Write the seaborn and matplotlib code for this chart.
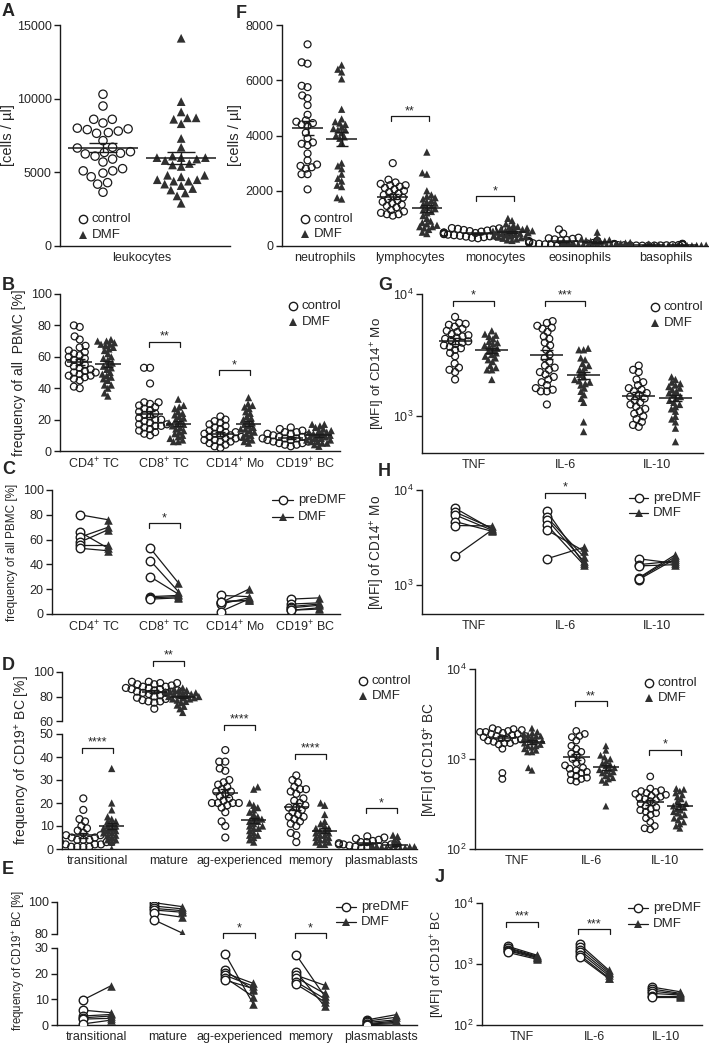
import warnings
warnings.filterwarnings('ignore')
import numpy as np
import pandas as pd
import matplotlib
matplotlib.use('Agg')
import matplotlib.pyplot as plt
from matplotlib.lines import Line2D
import seaborn as sns

sns.set_theme(style='ticks')
plt.rcParams['font.family'] = ['Liberation Sans', 'DejaVu Sans']
plt.rcParams['mathtext.fontset'] = 'custom'
plt.rcParams['mathtext.rm'] = 'Liberation Sans'
plt.rcParams['mathtext.it'] = 'Liberation Sans:italic'
plt.rcParams['mathtext.bf'] = 'Liberation Sans:bold'

# ---------------- DATA ----------------
a_cats = ['leukocytes']
a_control = [[10300, 9500, 8600, 8600, 8350, 8000, 7950, 7900, 7800, 7700, 7650, 7150, 6700, 6650, 6400,
              6350, 6300, 6250, 6100, 5900, 5700, 5250, 5100, 5100, 4950, 4700, 4300, 4200, 3650]]
a_dmf = [[14100, 9800, 9100, 8700, 8700, 8600, 8300, 7300, 6700, 6100, 6000, 6000, 6000, 5900, 5800, 5600,
          5500, 5400, 4800, 4800, 4700, 4500, 4500, 4400, 4400, 4200, 4100, 3900, 3800, 3600, 3400, 2900]]

f_cats = ['neutrophils', 'lymphocytes', 'monocytes', 'eosinophils', 'basophils']
f_control = [
    [7300, 6650, 6600, 5800, 5750, 5450, 5350, 5100, 4750, 4550, 4500, 4450, 4400, 4350, 4100, 3900, 3750,
     3700, 3650, 3350, 3100, 2950, 2900, 2850, 2800, 2600, 2600, 2050],
    [3000, 2400, 2300, 2250, 2200, 2200, 2150, 2100, 2050, 2000, 1950, 1900, 1850, 1800, 1750, 1700, 1650,
     1600, 1550, 1500, 1450, 1400, 1300, 1250, 1200, 1150, 1150, 1100],
    [650, 640, 620, 600, 580, 560, 540, 520, 500, 490, 480, 470, 460, 450, 440, 430, 420, 410, 400, 390, 380,
     370, 360, 350, 340, 320, 300, 280],
    [600, 450, 300, 280, 260, 240, 220, 200, 190, 180, 170, 160, 150, 140, 130, 120, 110, 100, 90, 80, 70, 60,
     50, 40, 30, 20, 10],
    [80, 75, 70, 65, 60, 55, 50, 45, 40, 38, 35, 32, 30, 28, 25, 22, 20, 18, 15, 12, 10]]
f_dmf = [
    [6550, 6400, 6300, 6050, 4950, 4600, 4500, 4450, 4400, 4300, 4250, 4200, 4200, 4100, 4000, 3950, 3900,
     3750, 3000, 2900, 2800, 2600, 2450, 2350, 2200, 2150, 1750, 1700],
    [3400, 2650, 2600, 2000, 1850, 1800, 1750, 1700, 1650, 1600, 1550, 1500, 1450, 1400, 1350, 1300, 1250,
     1200, 1100, 1000, 900, 850, 800, 750, 700, 700, 650, 600, 500, 450],
    [1000, 920, 800, 750, 700, 680, 650, 620, 600, 580, 560, 550, 540, 520, 500, 480, 460, 440, 420, 400, 380,
     360, 340, 320, 300, 280, 250, 220, 200],
    [500, 300, 250, 220, 200, 180, 170, 160, 150, 140, 130, 120, 110, 100, 90, 80, 70, 60, 50, 40, 30, 20, 10,
     5, 0],
    [90, 70, 60, 50, 45, 40, 35, 30, 28, 25, 22, 20, 18, 15, 12, 10, 8, 5]]

b_cats = ['CD4', 'CD8', 'CD14', 'CD19']
b_labels = ['CD4$^{+}$ TC', 'CD8$^{+}$ TC', 'CD14$^{+}$ Mo', 'CD19$^{+}$ BC']
b_control = [
    [80, 79, 73, 71, 67, 66, 64, 63, 62, 61, 60, 59, 58, 57, 56, 55, 54, 53, 52, 51, 50, 50, 49, 48, 48, 47,
     46, 45, 41, 40],
    [53, 53, 43, 31, 31, 30, 29, 28, 27, 26, 25, 24, 23, 22, 21, 20, 20, 19, 18, 17, 17, 16, 16, 15, 14, 13,
     12, 11, 10],
    [22, 20, 19, 18, 17, 16, 15, 14, 13, 12, 12, 11, 11, 10, 10, 9, 9, 8, 8, 7, 7, 6, 6, 5, 4, 3, 2],
    [15, 14, 13, 12, 12, 11, 11, 10, 10, 9, 9, 9, 8, 8, 8, 7, 7, 7, 6, 6, 5, 5, 4, 4, 3]]
b_dmf = [
    [71, 70, 70, 69, 68, 68, 67, 66, 65, 64, 62, 60, 59, 58, 56, 55, 54, 53, 52, 50, 49, 48, 47, 46, 45, 42,
     42, 40, 37, 35],
    [33, 29, 28, 27, 25, 24, 23, 22, 21, 20, 19, 18, 17, 17, 16, 15, 14, 13, 12, 11, 10, 9, 8, 7, 6, 6],
    [34, 30, 29, 28, 27, 25, 24, 22, 21, 20, 19, 18, 17, 16, 15, 14, 14, 13, 12, 11, 10, 9, 8, 7, 6, 5],
    [17, 17, 16, 15, 14, 13, 13, 12, 12, 11, 11, 10, 10, 9, 9, 8, 8, 7, 7, 6, 6, 5, 5, 4, 3]]

c_pre = [[80, 66, 62, 58, 56, 53], [53, 43, 30, 14, 13, 12], [15, 10, 9, 8, 2, 10], [12, 8, 6, 5, 3, 3]]
c_post = [[76, 53, 70, 68, 56, 51], [25, 18, 16, 15, 14, 13], [14, 11, 20, 13, 12, 11], [13, 9, 8, 7, 5, 4]]

d_cats = ['transitional', 'mature', 'ag-experienced', 'memory', 'plasmablasts']
d_control = [
    [22, 17, 13, 12, 10, 9, 8, 7, 6, 6, 5, 5, 4, 4, 4, 3, 3, 3, 2, 2, 2, 1, 1, 1, 1],
    [92, 92, 91, 91, 90, 90, 89, 88, 88, 87, 87, 86, 86, 85, 85, 84, 84, 83, 83, 82, 81, 80, 79, 78, 77, 76,
     76, 75, 70],
    [43, 38, 38, 35, 34, 30, 29, 28, 27, 26, 25, 25, 24, 23, 22, 21, 20, 20, 20, 20, 19, 18, 16, 12, 10, 5],
    [32, 30, 29, 27, 26, 26, 25, 24, 22, 21, 20, 19, 18, 18, 17, 16, 15, 14, 14, 13, 12, 11, 10, 7, 6, 3],
    [5.5, 5, 4.5, 4, 3.5, 3, 3, 2.5, 2.5, 2, 2, 2, 1.5, 1.5, 1, 1, 1, 0.5, 0.5]]
d_dmf = [
    [35, 20, 17, 14, 13, 12, 12, 11, 10, 10, 9, 9, 8, 8, 7, 7, 6, 6, 5, 4, 4, 3, 0],
    [87, 86, 85, 85, 84, 84, 83, 83, 82, 82, 81, 81, 80, 80, 79, 79, 78, 78, 77, 76, 75, 73, 72, 70, 67],
    [27, 26, 20, 19, 18, 17, 16, 15, 14, 13, 13, 12, 12, 11, 10, 10, 9, 9, 8, 7, 6, 6, 5, 4, 3],
    [20, 19, 15, 12, 11, 10, 9, 9, 8, 8, 7, 7, 6, 6, 5, 5, 4, 4, 3, 3, 2, 2],
    [6, 5.5, 4, 3, 2, 1.5, 1.5, 1, 1, 1, 0.8, 0.5, 0.5, 0.3, 0.2, 0.1]]

e_pre = [[9.7, 5.8, 3.5, 2.8, 2.3, 0.4], [99.6, 97.5, 96, 95, 93, 88.9], [27.8, 21.3, 20.3, 19.4, 18.5, 17.5],
         [27.4, 20.7, 19.4, 18.5, 16.8, 15.9], [2, 1.5, 1, 0.5, 0.3, 0.1]]
e_post = [[15.3, 4.8, 4.1, 3.5, 2.6, 1.9], [97.1, 95.7, 94.6, 93.6, 90.5, 80.6], [8.1, 13.6, 16.2, 15.1, 11, 14.2],
          [11.3, 7.4, 15.5, 12.3, 10.3, 9.1], [4, 3, 2, 1.5, 1, 0.5]]

g_cats = ['TNF', 'IL-6', 'IL-10']
g_control = [
    [6500, 5800, 5700, 5600, 5400, 5200, 5000, 4900, 4700, 4600, 4500, 4400, 4300, 4200, 4100, 4000, 3900,
     3800, 3700, 3600, 3500, 3300, 3100, 2700, 2500, 2400, 2300, 2000],
    [6000, 5800, 5500, 5300, 5200, 4900, 4500, 4300, 4000, 3800, 3500, 3200, 3000, 2800, 2600, 2500, 2400,
     2300, 2200, 2100, 2000, 1900, 1800, 1700, 1650, 1600, 1600, 1250],
    [2600, 2400, 2300, 2000, 1900, 1800, 1700, 1650, 1600, 1550, 1500, 1450, 1400, 1350, 1300, 1250, 1200,
     1150, 1100, 1050, 1000, 950, 900, 850, 820]]
g_dmf = [
    [5000, 4700, 4600, 4500, 4300, 4100, 4000, 3900, 3800, 3700, 3600, 3500, 3400, 3300, 3200, 3100, 3000,
     2900, 2800, 2600, 2500, 2400, 2400, 2000],
    [3600, 3500, 3500, 3000, 2900, 2700, 2600, 2500, 2400, 2300, 2200, 2100, 2000, 1950, 1900, 1850, 1800,
     1700, 1600, 1500, 1400, 1300, 900, 750],
    [2100, 2000, 1900, 1850, 1800, 1750, 1700, 1650, 1600, 1550, 1500, 1450, 1400, 1350, 1300, 1250, 1200,
     1150, 1100, 1000, 950, 900, 800, 620]]

h_pre = [[6450, 5870, 5480, 4670, 4240, 2020], [6000, 5200, 4900, 4300, 3800, 1900], [1900, 1650, 1600, 1200, 1150, 1180]]
h_post = [[3900, 4000, 3800, 3700, 4200, 3800], [1700, 2000, 1800, 1650, 2300, 2500], [1700, 1800, 1650, 2100, 1900, 2000]]

i_control = [
    [2200, 2150, 2100, 2100, 2050, 2000, 2000, 1950, 1900, 1900, 1850, 1800, 1800, 1750, 1700, 1700, 1650,
     1600, 1600, 1550, 1500, 1500, 1450, 1300, 700, 600],
    [2050, 1900, 1800, 1750, 1600, 1400, 1300, 1200, 1150, 1100, 1000, 950, 900, 850, 800, 780, 750, 720, 700,
     680, 650, 620, 600, 580, 560],
    [640, 470, 450, 440, 430, 420, 410, 400, 390, 380, 370, 360, 350, 340, 320, 300, 290, 280, 270, 260, 250,
     240, 220, 200, 180, 170, 165]]
i_dmf = [
    [2200, 2000, 1950, 1900, 1850, 1800, 1800, 1750, 1700, 1650, 1600, 1600, 1550, 1500, 1450, 1400, 1400,
     1350, 1300, 1250, 1200, 1200, 800, 750],
    [1400, 1250, 1100, 1050, 1000, 950, 900, 870, 840, 800, 780, 760, 740, 720, 700, 680, 650, 620, 600, 580,
     550, 300],
    [470, 460, 440, 420, 400, 380, 360, 340, 320, 310, 300, 290, 280, 270, 260, 250, 240, 230, 220, 210, 200,
     190, 180, 170]]

j_pre = [[1950, 1850, 1800, 1700, 1650, 1550], [2100, 1900, 1700, 1550, 1400, 1300], [420, 390, 360, 330, 300, 290]]
j_post = [[1400, 1350, 1300, 1300, 1250, 1200], [800, 750, 700, 650, 600, 580], [350, 330, 320, 310, 300, 290]]

# ---------------- FIGURE ----------------
W, H = 709, 1048
fig = plt.figure(figsize=(W / 100, H / 100), dpi=100)
DARK = '#303030'
FS = 9
FREEZE = []


def add_ax(x0, y0, x1, y1):
    return fig.add_axes([x0 / W, 1 - y1 / H, (x1 - x0) / W, (y1 - y0) / H])


def style(ax):
    sns.despine(ax=ax)
    ax.tick_params(axis='y', direction='out', length=4, width=1, labelsize=FS, pad=2, color='k')
    ax.tick_params(axis='x', length=0, labelsize=FS, pad=4)
    for s in ['left', 'bottom']:
        ax.spines[s].set_linewidth(1.0)
        ax.spines[s].set_color('k')
    ax.set_xlabel('')
    ax.set_ylabel('')
    ax.set_facecolor('none')


def long_df(cats, groups):
    rows = []
    for g, lists in groups.items():
        for c, vals in zip(cats, lists):
            for v in vals:
                rows.append((c, g, v))
    return pd.DataFrame(rows, columns=['cat', 'group', 'value'])


def scatter_panel(ax, cats, ctrl, dmf, size=5, log=False, skip=(), factor=0.65):
    ctrl = [[] if i in skip else v for i, v in enumerate(ctrl)]
    dmf = [[] if i in skip else v for i, v in enumerate(dmf)]
    df = long_df(cats, {'control': ctrl, 'DMF': dmf})
    kw = dict(x='cat', y='value', hue='group', hue_order=['control', 'DMF'], order=cats,
              dodge=True, legend=False, ax=ax)
    if log:
        kw['log_scale'] = True
    small = size * factor
    n0 = len(ax.collections)
    sns.swarmplot(data=df[df.group == 'control'], marker='o', size=small,
                  palette={'control': 'k', 'DMF': 'k'}, edgecolor='k', linewidth=0.9, **kw)
    for c in ax.collections[n0:]:
        c.set_facecolor('none')
        c.set_edgecolor('k')
        c.set_linewidth(0.9)
        FREEZE.append((c, size))
    n1 = len(ax.collections)
    sns.swarmplot(data=df[df.group == 'DMF'], marker='^', size=small,
                  palette={'control': DARK, 'DMF': DARK}, linewidth=0, **kw)
    for c in ax.collections[n1:]:
        FREEZE.append((c, size * 1.05))
    for i, c in enumerate(cats):
        for g, sign in (('control', -1), ('DMF', 1)):
            v = df[(df.cat == c) & (df.group == g)].value.values
            if len(v) == 0:
                continue
            m = v.mean()
            s = v.std(ddof=1) / np.sqrt(len(v))
            x = i + sign * 0.2
            ax.hlines(m, x - 0.18, x + 0.18, color='k', lw=1.1, zorder=6)
            ax.vlines(x, m - s, m + s, color='k', lw=1.0, zorder=6)
            ax.hlines([m - s, m + s], x - 0.07, x + 0.07, color='k', lw=1.0, zorder=6)


def paired_panel(ax, cats, pre, post, skip=(), ms=38):
    rows = []
    for i, c in enumerate(cats):
        if i in skip:
            continue
        for j, (a, b) in enumerate(zip(pre[i], post[i])):
            rows.append((i - 0.2, a, f'{c}-{j}', 'preDMF'))
            rows.append((i + 0.2, b, f'{c}-{j}', 'DMF'))
    df = pd.DataFrame(rows, columns=['x', 'value', 'unit', 'group'])
    sns.lineplot(data=df, x='x', y='value', units='unit', estimator=None, color='k', lw=0.9,
                 ax=ax, legend=False, zorder=2)
    sns.scatterplot(data=df[df.group == 'preDMF'], x='x', y='value', marker='o', s=ms,
                    facecolor='white', edgecolor='k', linewidth=1.0, ax=ax, zorder=3, legend=False)
    sns.scatterplot(data=df[df.group == 'DMF'], x='x', y='value', marker='^', s=ms,
                    color=DARK, edgecolor=DARK, linewidth=0, ax=ax, zorder=3, legend=False)


def bracket(ax, i, y, text, off=0.22, drop_px=5):
    d = ax.transData.transform([(i, y)])[0]
    y_low = ax.transData.inverted().transform([(d[0], d[1] - drop_px)])[0][1]
    ax.plot([i - off, i - off, i + off, i + off], [y_low, y, y, y_low], color='k', lw=0.9,
            clip_on=False, zorder=7)
    ax.annotate(text, xy=(i, y), xytext=(0, 1.5), textcoords='offset points', ha='center',
                va='baseline', fontsize=FS, annotation_clip=False)


def legend_markers(x, y1, y2, labels=('control', 'DMF')):
    fig.add_artist(Line2D([x / W], [1 - y1 / H], marker='o', ms=6, mfc='none', mec='k', mew=1.0,
                          transform=fig.transFigure))
    fig.add_artist(Line2D([x / W], [1 - y2 / H], marker='^', ms=6, mfc=DARK, mec=DARK, mew=0,
                          transform=fig.transFigure))
    fig.text((x + 9) / W, 1 - y1 / H, labels[0], va='center', ha='left', fontsize=9.5)
    fig.text((x + 9) / W, 1 - y2 / H, labels[1], va='center', ha='left', fontsize=9.5)


def legend_lines(x0, x1, y1, y2, labels=('preDMF', 'DMF')):
    xm = (x0 + x1) / 2
    for yy, mk, fc in ((y1, 'o', 'white'), (y2, '^', DARK)):
        fig.add_artist(Line2D([x0 / W, x1 / W], [1 - yy / H, 1 - yy / H], color='k', lw=0.9,
                              transform=fig.transFigure))
        fig.add_artist(Line2D([xm / W], [1 - yy / H], marker=mk, ms=6, mfc=fc,
                              mec='k' if mk == 'o' else DARK, mew=1.0 if mk == 'o' else 0,
                              transform=fig.transFigure))
    fig.text((x1 + 5) / W, 1 - y1 / H, labels[0], va='center', ha='left', fontsize=9.5)
    fig.text((x1 + 5) / W, 1 - y2 / H, labels[1], va='center', ha='left', fontsize=9.5)


def letter(x, y, s):
    fig.text(x / W, 1 - y / H, s, fontsize=13, fontweight='bold', ha='left', va='center')


def log_ticks(ax, ticks):
    ax.set_yticks(ticks)
    ax.set_yticklabels([f'10$^{{{int(np.log10(t))}}}$' for t in ticks])
    ax.yaxis.set_minor_locator(matplotlib.ticker.NullLocator())


# ---- A ----
axA = add_ax(60, 25, 230, 246)
scatter_panel(axA, a_cats, a_control, a_dmf, size=6, factor=1.0)
style(axA)
axA.set_xlim(-0.42, 0.45)
axA.set_ylim(0, 15000)
axA.set_yticks([0, 5000, 10000, 15000])
axA.set_xticks([0])
axA.set_xticklabels(a_cats)
axA.set_ylabel('[cells / µl]', fontsize=10.5, labelpad=1)
legend_markers(83, 219, 235)
letter(2, 12, 'A')

# ---- F ----
axF = add_ax(282, 25, 708, 246)
scatter_panel(axF, f_cats, f_control, f_dmf, size=5)
style(axF)
axF.set_xlim(-0.5, 4.5)
axF.set_ylim(0, 8000)
axF.set_yticks(range(0, 8001, 2000))
axF.set_xticks(range(5))
axF.set_xticklabels(f_cats)
axF.set_ylabel('[cells / µl]', fontsize=10.5, labelpad=3)
bracket(axF, 1, 4700, '**')
bracket(axF, 2, 1800, '*')
legend_markers(305, 219, 234)
letter(236, 13, 'F')

# ---- B ----
axB = add_ax(60, 294, 340, 451)
scatter_panel(axB, b_cats, b_control, b_dmf, size=5)
style(axB)
axB.set_xlim(-0.48, 3.5)
axB.set_ylim(0, 100)
axB.set_yticks(range(0, 101, 20))
axB.set_xticks(range(4))
axB.set_xticklabels(b_labels)
axB.set_ylabel('frequency of all  PBMC [%]', fontsize=10, labelpad=3)
bracket(axB, 1, 69.5, '**')
bracket(axB, 2, 51.5, '*')
legend_markers(293, 306, 322)
letter(2, 286, 'B')

# ---- C ----
axC = add_ax(52, 490, 340, 614)
paired_panel(axC, b_cats, c_pre, c_post)
style(axC)
axC.set_xlim(-0.6, 3.5)
axC.set_ylim(0, 100)
axC.set_yticks(range(0, 101, 20))
axC.set_xticks(range(4))
axC.set_xticklabels(b_labels)
axC.set_ylabel('frequency of all PBMC [%]', fontsize=8.5, labelpad=3)
bracket(axC, 1, 73, '*')
legend_lines(272, 293, 500, 517)
letter(2, 470, 'C')

# ---- D (broken axis) ----
axDt = add_ax(62, 672, 417, 721)
axDb = add_ax(62, 734, 417, 849)
scatter_panel(axDt, d_cats, d_control, d_dmf, size=5, skip=(0, 2, 3, 4))
scatter_panel(axDb, d_cats, d_control, d_dmf, size=5, skip=(1,))
for ax in (axDt, axDb):
    style(ax)
    ax.set_xlim(-0.5, 4.5)
axDt.set_ylim(60, 100)
axDt.set_yticks([60, 80, 100])
axDt.spines['bottom'].set_visible(False)
axDt.set_xticks([])
axDb.set_ylim(0, 50)
axDb.set_yticks(range(0, 51, 10))
axDb.set_xticks(range(5))
axDb.set_xticklabels(d_cats)
bracket(axDt, 1, 109, '**')
bracket(axDb, 0, 44, '****')
bracket(axDb, 2, 54, '****')
bracket(axDb, 3, 41.3, '****')
bracket(axDb, 4, 17.8, '*')
fig.text(23 / W, 1 - 760 / H, 'frequency of CD19$^{+}$ BC [%]', rotation=90, ha='center', va='center',
         fontsize=10)
legend_markers(363, 681, 696)
letter(2, 666, 'D')

# ---- E (broken axis) ----
axEt = add_ax(57, 902, 417, 934)
axEb = add_ax(57, 948, 417, 1025)
paired_panel(axEt, d_cats, e_pre, e_post, skip=(0, 2, 3, 4))
paired_panel(axEb, d_cats, e_pre, e_post, skip=(1,))
for ax in (axEt, axEb):
    style(ax)
    ax.set_xlim(-0.56, 4.5)
axEt.set_ylim(80, 100)
axEt.set_yticks([80, 100])
axEt.spines['bottom'].set_visible(False)
axEt.set_xticks([])
axEb.set_ylim(0, 30)
axEb.set_yticks([0, 10, 20, 30])
axEb.set_xticks(range(5))
axEb.set_xticklabels(d_cats)
bracket(axEb, 2, 35.8, '*')
bracket(axEb, 3, 35.8, '*')
fig.text(19 / W, 1 - 960 / H, 'frequency of CD19$^{+}$ BC [%]', rotation=90, ha='center', va='center',
         fontsize=8.3)
legend_lines(336, 356, 907, 922)
letter(2, 870, 'E')

# ---- G ----
axG = add_ax(422, 294, 703, 453)
scatter_panel(axG, g_cats, g_control, g_dmf, size=5, log=True)
style(axG)
axG.set_xlim(-0.56, 2.5)
axG.set_ylim(10 ** 2.7, 1e4)
log_ticks(axG, [1e3, 1e4])
axG.set_xticks(range(3))
axG.set_xticklabels(g_cats)
axG.set_ylabel('[MFI] of CD14$^{+}$ Mo', fontsize=9.6, labelpad=4)
bracket(axG, 0, 8800, '*')
bracket(axG, 1, 8800, '***')
legend_markers(655, 307, 323)
letter(378, 285, 'G')

# ---- H ----
axH = add_ax(422, 490, 703, 614)
axH.set_yscale('log')
paired_panel(axH, g_cats, h_pre, h_post)
style(axH)
axH.set_xlim(-0.56, 2.5)
axH.set_ylim(10 ** 2.7, 1e4)
log_ticks(axH, [1e3, 1e4])
axH.set_xticks(range(3))
axH.set_xticklabels(g_cats)
axH.set_ylabel('[MFI] of CD14$^{+}$ Mo', fontsize=9.8, labelpad=4)
bracket(axH, 1, 9300, '*')
legend_lines(629, 648, 498, 513)
letter(378, 471, 'H')

# ---- I ----
axI = add_ax(475, 669, 702, 849)
scatter_panel(axI, g_cats, i_control, i_dmf, size=4.7, log=True)
style(axI)
axI.set_xlim(-0.57, 2.5)
axI.set_ylim(100, 1e4)
log_ticks(axI, [1e2, 1e3, 1e4])
axI.set_xticks(range(3))
axI.set_xticklabels(g_cats)
axI.set_ylabel('[MFI] of CD19$^{+}$ BC', fontsize=9.8, labelpad=4)
bracket(axI, 1, 4400, '**')
bracket(axI, 2, 1260, '*')
legend_markers(649, 683, 698)
letter(435, 655, 'I')

# ---- J ----
axJ = add_ax(482, 903, 702, 1025)
axJ.set_yscale('log')
paired_panel(axJ, g_cats, j_pre, j_post)
style(axJ)
axJ.set_xlim(-0.56, 2.5)
axJ.set_ylim(100, 1e4)
log_ticks(axJ, [1e2, 1e3, 1e4])
axJ.set_xticks(range(3))
axJ.set_xticklabels(g_cats)
axJ.set_ylabel('[MFI] of CD19$^{+}$ BC', fontsize=9.2, labelpad=4)
bracket(axJ, 0, 4900, '***')
bracket(axJ, 1, 3700, '***')
legend_lines(628, 648, 908, 924)
letter(435, 878, 'J')

# compute swarms with small markers, then freeze positions and enlarge markers
fig.canvas.draw()
for coll, sz in FREEZE:
    if 'draw' in coll.__dict__:
        del coll.draw
    coll.set_sizes([sz ** 2])

fig.savefig('out.png', dpi=100, facecolor='white')
